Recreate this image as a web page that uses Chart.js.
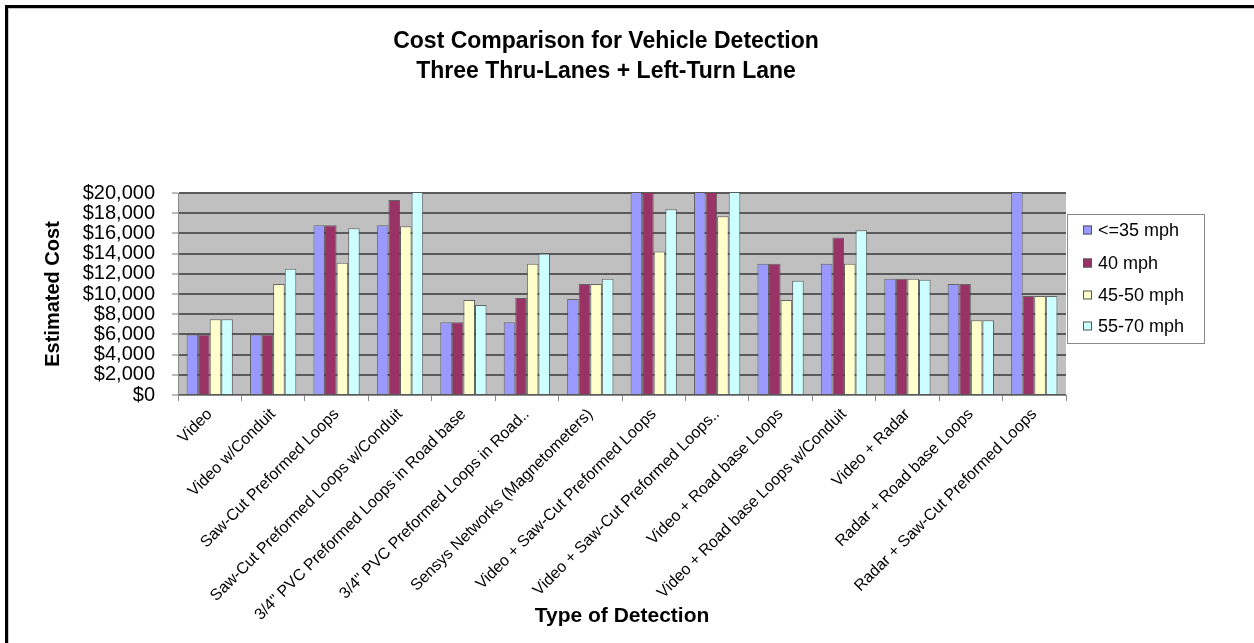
<!DOCTYPE html>
<html>
<head>
<meta charset="utf-8">
<script src="https://cdn.jsdelivr.net/npm/chart.js@4.4.0/dist/chart.umd.min.js"></script>
<style>
  html, body { margin: 0; background: #fff; overflow: hidden; width: 1254px; height: 643px; }
  #frame {
    position: absolute; left: 5px; top: 5px; right: -60px; bottom: -60px;
    border-left: 3px solid #000; border-top: 3px solid #000;
  }
  #inner {
    position: absolute; left: 0; top: 0; right: 0; bottom: 0;
    border-left: 1px solid #c8c8c8; border-top: 1px solid #c8c8c8;
  }
  #costChart { position: absolute; left: 9px; top: 9px; }
</style>
</head>
<body>
<div id="frame"><div id="inner"></div></div>
<canvas id="costChart" width="1245" height="634"></canvas>
<script>
// categories along the x axis
const detectionTypes = [
    'Video',
    'Video w/Conduit',
    'Saw-Cut Preformed Loops',
    'Saw-Cut Preformed Loops w/Conduit',
    '3/4" PVC Preformed Loops in Road base',
    '3/4" PVC Preformed Loops in Road..',
    'Sensys Networks (Magnetometers)',
    'Video + Saw-Cut Preformed Loops',
    'Video + Saw-Cut Preformed Loops..',
    'Video + Road base Loops',
    'Video + Road base Loops w/Conduit',
    'Video + Radar',
    'Radar + Road base Loops',
    'Radar + Saw-Cut Preformed Loops'
];

const seriesNames = ['<=35 mph', '40 mph', '45-50 mph', '55-70 mph'];

// estimated costs ($), values above 20,000 are cut off by the axis
const cost35 = [6000, 6000, 16800, 16800, 7200, 7200, 9500, 24000, 25000, 13000, 13000, 11500, 11000, 26000];
const cost40 = [6000, 6000, 16800, 19300, 7200, 9600, 11000, 24000, 25000, 13000, 15600, 11500, 11000, 9800];
const cost45_50 = [7500, 11000, 13100, 16700, 9400, 13000, 11000, 14200, 17700, 9400, 13000, 11500, 7400, 9800];
const cost55_70 = [7500, 12500, 16500, 22000, 8900, 14000, 11500, 18400, 27000, 11300, 16300, 11400, 7400, 9800];

const yTicks = [0, 2000, 4000, 6000, 8000, 10000, 12000, 14000, 16000, 18000, 20000];

const fontFam = '"Liberation Sans", Arial, sans-serif';
const colors = ['#9999FF', '#993366', '#FFFFCC', '#CCFFFF'];

const data = {
    labels: detectionTypes,
    datasets: [cost35, cost40, cost45_50, cost55_70].map((vals, i) => ({
        label: seriesNames[i],
        data: vals,
        backgroundColor: colors[i],
        borderColor: 'rgba(70,70,70,0.75)',
        borderWidth: 1,
        borderSkipped: 'bottom',
        barPercentage: 1,
        categoryPercentage: 0.73
    }))
};

// grey plot wall
const plotBg = {
    id: 'plotBg',
    beforeDraw: chart => {
        const a = chart.chartArea;
        const ctx = chart.ctx;
        ctx.save();
        ctx.fillStyle = '#C0C0C0';
        ctx.fillRect(a.left, a.top, a.right - a.left, a.bottom - a.top);
        ctx.restore();
    }
};

// two-line title and boxed legend
const extras = {
    id: 'extras',
    afterDraw: chart => {
        const ctx = chart.ctx;
        ctx.save();
        ctx.fillStyle = '#000';
        ctx.textAlign = 'center';
        ctx.textBaseline = 'middle';
        ctx.font = 'bold 23px ' + fontFam;
        ctx.fillText('Cost Comparison for Vehicle Detection', 597, 33);
        ctx.fillText('Three Thru-Lanes + Left-Turn Lane', 597, 63);

        // legend box
        ctx.fillStyle = '#fff';
        ctx.fillRect(1058, 205, 137, 129);
        ctx.strokeStyle = '#888';
        ctx.lineWidth = 1;
        ctx.strokeRect(1058.5, 205.5, 137, 129);
        const rows = [221, 254, 286, 317];
        ctx.textAlign = 'left';
        ctx.font = '18px ' + fontFam;
        chart.data.datasets.forEach((ds, i) => {
            ctx.fillStyle = ds.backgroundColor;
            ctx.fillRect(1074, rows[i] - 4.5, 9, 9);
            ctx.strokeStyle = '#555';
            ctx.strokeRect(1074.5, rows[i] - 4, 8, 8);
            ctx.fillStyle = '#000';
            ctx.fillText(ds.label, 1089, rows[i] + 1);
        });
        ctx.restore();
    }
};

const config = {
    type: 'bar',
    data: data,
    options: {
        responsive: false,
        animation: false,
        devicePixelRatio: 1,
        layout: { padding: { top: 184, right: 188, left: 0, bottom: 0 } },
        plugins: {
            legend: { display: false },
            tooltip: { enabled: false }
        },
        scales: {
            x: {
                afterFit: s => { s.height = 248; },
                grid: {
                    offset: true,
                    drawOnChartArea: false,
                    drawTicks: true,
                    tickLength: 6,
                    color: '#888'
                },
                border: { color: '#888' },
                ticks: {
                    autoSkip: false,
                    maxRotation: 45,
                    minRotation: 45,
                    padding: 4,
                    color: '#000',
                    font: { family: fontFam, size: 16 }
                },
                title: {
                    display: true,
                    text: 'Type of Detection',
                    color: '#000',
                    padding: { top: 0, bottom: 14 },
                    font: { family: fontFam, size: 21, weight: 'bold' }
                }
            },
            y: {
                min: 0,
                max: 20000,
                afterFit: s => { s.width = 169; },
                afterBuildTicks: s => { s.ticks = yTicks.map(v => ({ value: v })); },
                grid: {
                    color: '#5a5a5a',
                    lineWidth: 2,
                    tickLength: 6,
                    tickColor: '#777',
                    tickWidth: 1
                },
                border: { color: '#888' },
                ticks: {
                    autoSkip: false,
                    padding: 17,
                    color: '#000',
                    font: { family: fontFam, size: 20 },
                    callback: v => '$' + v.toLocaleString('en-US')
                },
                title: {
                    display: true,
                    text: 'Estimated Cost',
                    color: '#000',
                    padding: { top: 32, bottom: 0 },
                    font: { family: fontFam, size: 20, weight: 'bold' }
                }
            }
        }
    },
    plugins: [plotBg, extras]
};

const costChart = new Chart(document.getElementById('costChart'), config);
</script>
</body>
</html>
